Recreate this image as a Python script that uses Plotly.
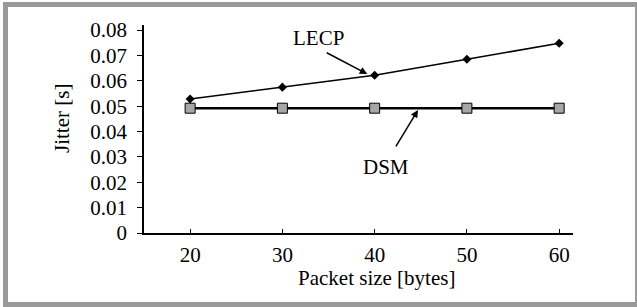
import plotly.graph_objects as go

packet_size = [20, 30, 40, 50, 60]
lecp_jitter = [0.0528, 0.0575, 0.0622, 0.0685, 0.0748]
dsm_jitter = [0.0492, 0.0492, 0.0492, 0.0492, 0.0492]
y_ticks = [0, 0.01, 0.02, 0.03, 0.04, 0.05, 0.06, 0.07, 0.08]
y_tick_text = ["0", "0.01", "0.02", "0.03", "0.04", "0.05", "0.06", "0.07", "0.08"]
x_title = "Packet size [bytes]"
y_title = "Jitter [s]"

W, H = 637, 307
ML, MR, MT, MB = 144, 64, 25, 74
PW, PH = W - ML - MR, H - MT - MB

def px_x(p):
    return (p - ML) / PW

def px_y(p):
    return (H - MB - p) / PH

FONT = "Liberation Serif"
FS = 21
fig = go.Figure()
fig.add_trace(go.Scatter(
    x=packet_size, y=dsm_jitter, mode="lines+markers", name="DSM",
    line=dict(color="black", width=2.5),
    marker=dict(symbol="square", size=10, color="#a6a6a6",
                line=dict(color="black", width=1)),
    cliponaxis=False))
fig.add_trace(go.Scatter(
    x=packet_size, y=lecp_jitter, mode="lines+markers", name="LECP",
    line=dict(color="black", width=1.5),
    marker=dict(symbol="diamond", size=7, color="black"),
    cliponaxis=False))

fig.update_layout(
    width=W, height=H, margin=dict(l=ML, r=MR, t=MT, b=MB),
    paper_bgcolor="white", plot_bgcolor="white", showlegend=False,
    font=dict(family=FONT, size=FS, color="black"),
    xaxis=dict(range=[15, 61.5], tickvals=packet_size, ticks="inside",
               ticklen=4, tickcolor="black", showline=True, linecolor="black",
               linewidth=1.5, showgrid=False, zeroline=False,
               ticklabelstandoff=2),
    yaxis=dict(range=[0, 0.082], tickvals=y_ticks, ticktext=y_tick_text,
               ticks="outside", ticklen=5, tickcolor="black", showline=True,
               linecolor="black", linewidth=1.5, showgrid=False,
               zeroline=False, ticklabelstandoff=6),
)

# border
fig.add_shape(type="rect", xref="paper", yref="paper",
              x0=px_x(5.5), x1=px_x(637.5), y0=px_y(4.5), y1=px_y(304.5),
              line=dict(color="#999999", width=5), fillcolor="rgba(0,0,0,0)")

# axis titles
fig.add_annotation(xref="paper", yref="paper", x=px_x(376), y=px_y(278),
                   text=x_title, showarrow=False, xanchor="center",
                   yanchor="middle", font=dict(size=FS))
fig.add_annotation(xref="paper", yref="paper", x=px_x(62), y=px_y(119),
                   text=y_title, showarrow=False, textangle=-90,
                   xanchor="center", yanchor="middle", font=dict(size=FS))

# series labels
fig.add_annotation(x=33.9, y=0.0768, text="LECP", showarrow=False,
                   font=dict(size=FS))
fig.add_annotation(x=39.2, y=0.0627, text="", showarrow=True, ax=-42, ay=-22,
                   arrowhead=2, arrowsize=1, arrowwidth=1.5, arrowcolor="black")
fig.add_annotation(x=41.2, y=0.026, text="DSM", showarrow=False,
                   font=dict(size=FS))
fig.add_annotation(x=44.7, y=0.0485, text="", showarrow=True, ax=-23, ay=38,
                   arrowhead=2, arrowsize=1, arrowwidth=1.5, arrowcolor="black")

fig.write_html("out.html", config={"displayModeBar": False},
               post_script="document.body.style.margin='0';document.body.style.overflow='hidden';")
